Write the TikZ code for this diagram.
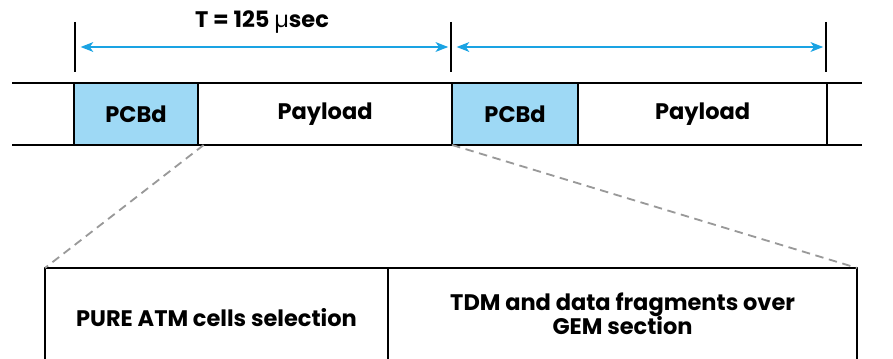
\documentclass[tikz,border=0pt]{standalone}
\usepackage{fontspec}
\setmainfont{Poppins}
\usetikzlibrary{positioning,arrows.meta}
\definecolor{pcbblue}{HTML}{9ED9F5}
\definecolor{arrowblue}{HTML}{1AA3E3}
\definecolor{dashgray}{HTML}{999999}
\begin{document}
\begin{tikzpicture}[
    x=0.025cm, y=-0.025cm,
    every node/.style={align=center, font=\bfseries\fontsize{16}{17}\selectfont},
    frame line/.style={draw, line width=1.3pt},
    field/.style={draw, line width=1.3pt, minimum height=1.55cm, inner sep=0pt, outer sep=0pt},
    pcb field/.style={field, fill=pcbblue},
    tick line/.style={draw, line width=1pt},
    period arrow/.style={draw=arrowblue, line width=0.9pt,
        {Stealth[length=9pt, width=7pt, inset=2.5pt]}-{Stealth[length=9pt, width=7pt, inset=2.5pt]}},
    zoom line/.style={draw=dashgray, line width=1.3pt, dash pattern=on 6pt off 4pt},
    section/.style={draw, line width=1.3pt, minimum height=2.5cm, inner sep=0pt, outer sep=0pt},
    ]
\useasboundingbox (0,0) rectangle (893,358);
\clip (0,0) rectangle (893,358);
% frame row
\node[pcb field, minimum width=3.1cm] (pcbA) at (136,114) {PCBd};
\node[field, minimum width=6.35cm, right=0pt of pcbA] (payA) {Payload};
\node[pcb field, minimum width=3.15cm, right=0pt of payA] (pcbB) {PCBd};
\node[field, minimum width=6.225cm, right=0pt of pcbB] (payB) {Payload};
\coordinate (topL) at (12,83);
\coordinate (topR) at (862,83);
\coordinate (botL) at (12,145);
\coordinate (botR) at (862,145);
\draw[frame line] (topL) -- (topR);
\draw[frame line] (botL) -- (botR);
% period marks
\coordinate (tickA) at (75,47);
\coordinate (tickB) at (451,47);
\coordinate (tickC) at (826,47);
\foreach \t in {tickA,tickB,tickC}
    \draw[tick line] ([yshift=0.625cm]\t) -- ([yshift=-0.625cm]\t);
\draw[period arrow] ([xshift=4pt]tickA) -- ([xshift=-2pt]tickB);
\draw[period arrow] ([xshift=4pt]tickB) -- ([xshift=-2pt]tickC);
\node (period) at (262,22) {T = 125 {\mdseries µ}sec};
% expanded payload
\node[section, minimum width=8.575cm] (atm) at (216.5,318) {PURE ATM cells selection};
\node[section, minimum width=11.725cm, right=0pt of atm] (tdm) {TDM and data fragments over\\[-1pt]GEM section\\[-11pt]};
\draw[zoom line] ([xshift=4pt]payA.south west) -- (atm.north west);
\draw[zoom line] (pcbB.south west) -- (tdm.north east);
\end{tikzpicture}
\end{document}
